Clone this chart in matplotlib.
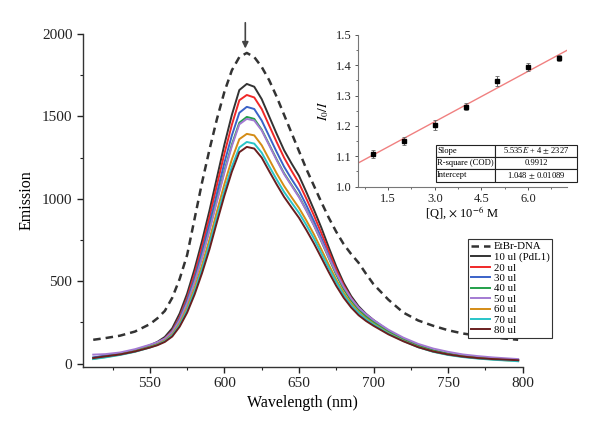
import matplotlib
matplotlib.use('Agg')
import matplotlib.pyplot as plt
from matplotlib.ticker import AutoMinorLocator, MultipleLocator
import numpy as np

plt.rcParams['font.family'] = ['Liberation Serif', 'DejaVu Serif']
plt.rcParams['mathtext.fontset'] = 'stix'

# --- emission spectra ---
wavelength = [512, 520, 530, 540, 550, 555, 560, 565, 570, 575, 580, 585, 590, 595, 600, 605,
              610, 615, 620, 625, 630, 635, 640, 645, 650, 655, 660, 665, 670, 675, 680,
              685, 690, 695, 700, 710, 720, 730, 740, 750, 760, 770, 780, 790, 797]

etbr_dna = [145, 155, 170, 195, 240, 275, 320, 400, 515, 660, 880, 1100, 1300, 1485, 1650, 1780,
            1860, 1885, 1860, 1800, 1720, 1620, 1510, 1400, 1290, 1180, 1080, 980, 885, 800, 725,
            665, 612, 545, 482, 388, 310, 262, 230, 203, 183, 170, 160, 151, 145]
ul10 = [36, 48, 62, 82, 112, 132, 162, 215, 305, 425, 575, 745, 930, 1130, 1330, 1510,
        1660, 1697, 1680, 1605, 1500, 1395, 1295, 1215, 1140, 1040, 935, 825, 705, 590, 490,
        410, 348, 302, 265, 200, 150, 110, 80, 60, 45, 36, 29, 24, 20]
ul20 = [34, 45, 60, 80, 108, 127, 152, 200, 285, 400, 545, 710, 890, 1085, 1275, 1450,
        1598, 1630, 1615, 1545, 1445, 1345, 1250, 1170, 1095, 1000, 900, 792, 680, 570, 475,
        398, 338, 294, 260, 198, 148, 108, 78, 58, 44, 35, 28, 24, 21]
ul30 = [38, 48, 62, 80, 108, 126, 150, 195, 275, 385, 520, 680, 850, 1035, 1220, 1385,
        1522, 1558, 1545, 1475, 1380, 1285, 1195, 1120, 1050, 960, 865, 762, 655, 552, 460,
        388, 332, 290, 255, 195, 146, 108, 78, 58, 44, 36, 30, 25, 22]
ul40 = [32, 44, 58, 78, 105, 123, 147, 190, 265, 370, 500, 650, 815, 995, 1170, 1330,
        1462, 1497, 1485, 1420, 1330, 1240, 1155, 1085, 1015, 930, 840, 742, 640, 540, 452,
        383, 328, 286, 252, 194, 146, 108, 80, 60, 46, 37, 30, 25, 22]
ul50 = [55, 58, 68, 88, 115, 130, 152, 192, 265, 368, 495, 645, 810, 985, 1160, 1320,
        1452, 1485, 1475, 1415, 1325, 1235, 1150, 1080, 1010, 928, 840, 745, 645, 550, 465,
        396, 340, 300, 265, 206, 158, 120, 92, 72, 56, 46, 38, 32, 28]
ul60 = [30, 40, 55, 74, 100, 117, 140, 178, 245, 340, 460, 600, 755, 925, 1090, 1240,
        1362, 1394, 1385, 1325, 1240, 1155, 1078, 1010, 945, 868, 785, 693, 600, 510, 430,
        365, 314, 275, 243, 186, 140, 102, 74, 55, 42, 33, 26, 20, 16]
ul70 = [28, 38, 53, 72, 98, 114, 136, 172, 235, 325, 440, 575, 725, 890, 1050, 1195,
        1312, 1345, 1335, 1280, 1198, 1118, 1042, 978, 915, 840, 760, 670, 580, 495, 417,
        355, 307, 269, 238, 183, 138, 100, 72, 53, 40, 31, 24, 19, 15]
ul80 = [34, 44, 56, 74, 98, 112, 132, 165, 225, 310, 420, 550, 695, 860, 1020, 1165,
        1283, 1315, 1305, 1250, 1168, 1088, 1012, 948, 885, 810, 730, 643, 555, 472, 400,
        341, 294, 259, 230, 178, 136, 100, 74, 56, 43, 34, 28, 24, 21]

series_labels = ['10 ul (PdL1)', '20 ul', '30 ul', '40 ul', '50 ul', '60 ul', '70 ul', '80 ul']
series_values = [ul10, ul20, ul30, ul40, ul50, ul60, ul70, ul80]
series_colors = ['#333333', '#f02828', '#3a62c8', '#22a04a', '#a37ad2', '#d48c16', '#28c4c8', '#6a1f1f']

# --- Stern-Volmer inset ---
q_conc = [1, 2, 3, 4, 5, 6, 7]
i0_over_i = [1.108, 1.150, 1.204, 1.264, 1.348, 1.394, 1.425]
i0_err = [0.013, 0.012, 0.016, 0.011, 0.015, 0.012, 0.010]
fit_slope = 0.05535   # 5.535E+4 per M, x axis in 1e-6 M
fit_intercept = 1.048
fit_table = [['Slope', r'5.535$E$ + 4 $\pm$ 2327'],
             ['R-square (COD)', '0.9912'],
             ['Intercept', r'1.048 $\pm$ 0.01089']]

fig = plt.figure(figsize=(6.0, 4.34), dpi=100)
ax = fig.add_axes([0.138, 0.1544, 0.733, 0.7673])

ax.plot(wavelength, etbr_dna, color='#333333', lw=1.8, ls=(0, (3, 2)), label='EtBr-DNA')
for vals, lab, col in zip(series_values, series_labels, series_colors):
    ax.plot(wavelength, vals, color=col, lw=1.4, label=lab)

ax.set_xlim(505, 800)
ax.set_ylim(-20, 2000)
ax.xaxis.set_major_locator(MultipleLocator(50))
ax.xaxis.set_minor_locator(MultipleLocator(25))
ax.yaxis.set_major_locator(MultipleLocator(500))
ax.yaxis.set_minor_locator(MultipleLocator(250))
for s in ['top', 'right']:
    ax.spines[s].set_visible(False)
for s in ['left', 'bottom']:
    ax.spines[s].set_color('#333333')
    ax.spines[s].set_linewidth(1.0)
ax.tick_params(which='major', direction='out', length=4, width=1.0, labelsize=11, colors='#222222')
ax.tick_params(which='minor', direction='out', length=2.5, width=0.8, colors='#222222')
ax.set_xlabel('Wavelength (nm)', fontsize=11.5, labelpad=3)
ax.set_ylabel('Emission', fontsize=11.5, labelpad=5)

ax.annotate('', xy=(614, 1895), xytext=(614, 2085), annotation_clip=False,
            arrowprops=dict(arrowstyle='-|>', color='#444444', lw=1.2, mutation_scale=9))

leg = ax.legend(loc='upper left', bbox_to_anchor=(0.876, 0.384), fontsize=7.8,
                frameon=True, fancybox=False, edgecolor='#333333', framealpha=1,
                labelspacing=0.08, handlelength=1.8, handletextpad=0.3, borderpad=0.25,
                borderaxespad=0)
leg.get_frame().set_linewidth(0.8)

# inset
axi = fig.add_axes([0.596, 0.570, 0.349, 0.3495])
axi.set_xlim(0.52, 7.25)
axi.set_ylim(1.0, 1.5)
fx = np.array([0.52, 7.25])
axi.plot(fx, fit_intercept + fit_slope * fx, color='#f08080', lw=1.0)
axi.errorbar(q_conc, i0_over_i, yerr=i0_err, fmt='s', color='black', ms=3.2,
             ecolor='#666666', elinewidth=0.7, capsize=1.5, capthick=0.6)
axi.xaxis.set_major_locator(MultipleLocator(1.5))
axi.xaxis.set_minor_locator(AutoMinorLocator(2))
axi.yaxis.set_major_locator(MultipleLocator(0.1))
axi.yaxis.set_minor_locator(AutoMinorLocator(2))
axi.xaxis.set_major_formatter(plt.FormatStrFormatter('%.1f'))
axi.yaxis.set_major_formatter(plt.FormatStrFormatter('%.1f'))
for s in ['top', 'right']:
    axi.spines[s].set_visible(False)
for s in ['left', 'bottom']:
    axi.spines[s].set_color('#777777')
    axi.spines[s].set_linewidth(0.8)
axi.tick_params(which='major', direction='out', length=2.5, width=0.7, labelsize=9, colors='#555555',
                labelcolor='#222222', pad=2)
axi.tick_params(which='minor', direction='out', length=1.5, width=0.6, colors='#555555')
axi.set_xlabel(r'[Q], $\times$ 10$^{-6}$ M', fontsize=9, labelpad=0)
axi.set_ylabel(r'$I_0/I$', fontsize=9.5, labelpad=3)

tbl = axi.table(cellText=fit_table, colWidths=[0.415, 0.585], cellLoc='left',
                bbox=[0.373, 0.033, 0.677, 0.242])
tbl.auto_set_font_size(False)
tbl.set_fontsize(6.1)
for (r, c), cell in tbl.get_celld().items():
    cell.set_linewidth(0.8)
    cell.set_edgecolor('#222222')
    cell.PAD = 0.02
    if c == 1:
        cell.get_text().set_horizontalalignment('center')
        cell._loc = 'center'

fig.savefig('out.png', dpi=100)
